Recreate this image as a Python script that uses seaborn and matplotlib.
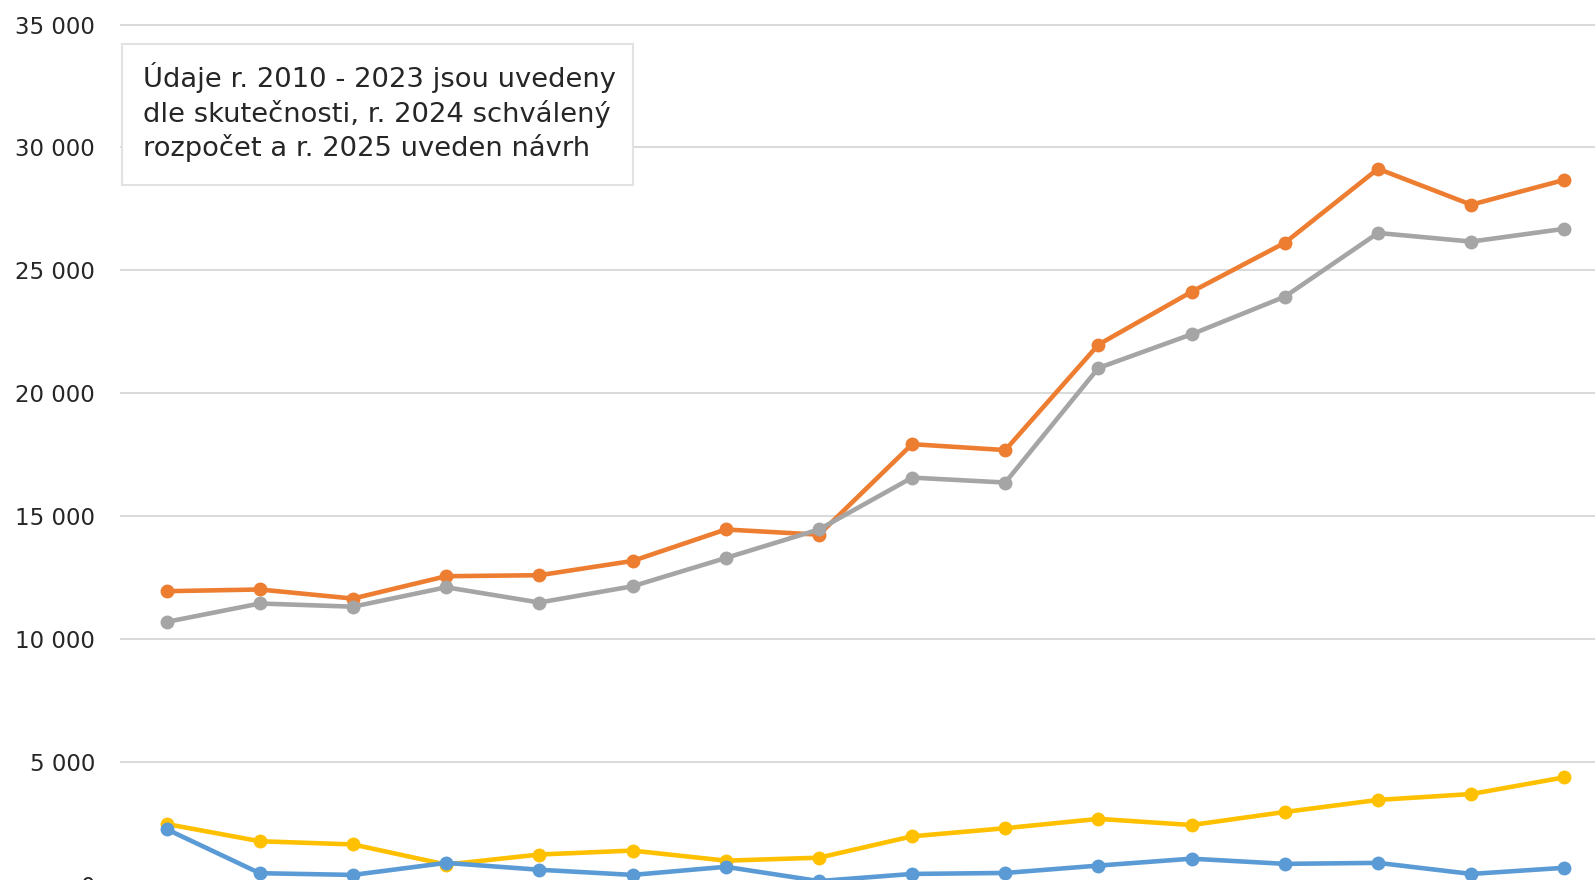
import matplotlib
matplotlib.use("Agg")
import matplotlib.pyplot as plt
import seaborn as sns
import pandas as pd
from matplotlib.patches import Rectangle
from matplotlib.ticker import FuncFormatter

years = list(range(2010, 2026))
orange = [11950, 12020, 11650, 12560, 12600, 13180, 14460, 14250, 17930, 17690, 21980, 24130, 26120, 29130, 27670, 28680]
gray = [10700, 11450, 11320, 12110, 11490, 12150, 13300, 14460, 16570, 16370, 21030, 22400, 23930, 26520, 26170, 26690]
yellow = [2480, 1780, 1650, 830, 1240, 1400, 990, 1110, 1980, 2310, 2690, 2440, 2970, 3460, 3700, 4380]
blue = [2270, 480, 410, 900, 620, 410, 740, 160, 450, 490, 790, 1070, 860, 900, 450, 700]
series_names = ["orange", "gray", "yellow", "blue"]
colors = {"orange": "#ED7D31", "gray": "#A5A5A5", "yellow": "#FFC000", "blue": "#5B9BD5"}
note = "Údaje r. 2010 - 2023 jsou uvedeny\ndle skutečnosti, r. 2024 schválený\nrozpočet a r. 2025 uveden návrh"

sns.set_theme(style="white")
plt.rcParams['font.family'] = ['DejaVu Sans']

W, H = 1595, 880
fig = plt.figure(figsize=(W / 100, H / 100), dpi=100)
left, right = 120, 1611
ytop, ybot = 24.5, 885
ax = fig.add_axes([left / W, 1 - ybot / H, (right - left) / W, (ybot - ytop) / H])

data = {"orange": orange, "gray": gray, "yellow": yellow, "blue": blue}
zorders = {"orange": 3, "gray": 4, "yellow": 5, "blue": 6}
for name in series_names:
    df = pd.DataFrame({"x": range(len(years)), "v": data[name]})
    sns.lineplot(data=df, x="x", y="v", ax=ax, color=colors[name], linewidth=3.3,
                 marker="o", markersize=10, markeredgewidth=0, zorder=zorders[name],
                 clip_on=False)

ax.set_xlim(-0.5, len(years) - 0.5)
ax.set_ylim(0, 35000)
ax.set_yticks(range(0, 35001, 5000))
ax.yaxis.set_major_formatter(FuncFormatter(lambda v, p: f"{int(v):,}".replace(",", " ")))
ax.set_xticks([])
ax.set_xlabel("")
ax.set_ylabel("")
ax.grid(axis="y", color="#d9d9d9", linewidth=1.4)
ax.set_axisbelow(True)
for s in ax.spines.values():
    s.set_visible(False)
ax.tick_params(axis="y", length=0, labelsize=16.5, pad=18, colors="#262626")
for lbl in ax.get_yticklabels():
    lbl.set_horizontalalignment("right")

# note box
bx0, by0, bx1, by1 = 122, 44, 633, 185
fig.patches.append(Rectangle((bx0 / W, 1 - by1 / H), (bx1 - bx0) / W, (by1 - by0) / H,
                             transform=fig.transFigure, facecolor="white",
                             edgecolor="#e2e2e2", linewidth=1.5, zorder=10))
fig.text(143 / W, 1 - 112 / H, note, ha="left", va="center", fontsize=19.7,
         linespacing=1.28, color="#262626", zorder=11)

fig.savefig("out.png", dpi=100)
